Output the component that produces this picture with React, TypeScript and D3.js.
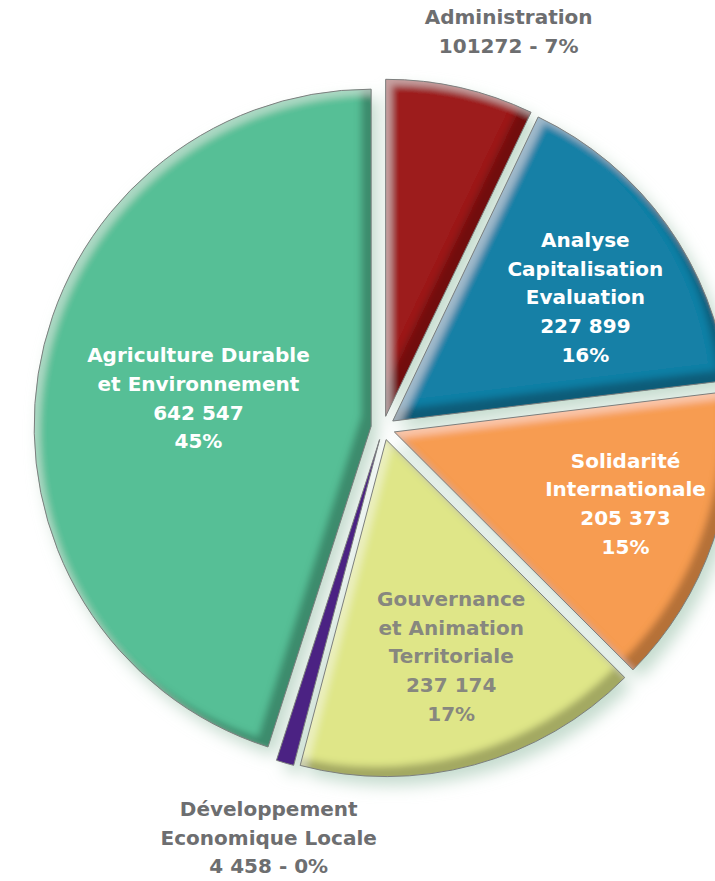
import React from 'react'
import * as d3 from 'd3'

const W = 715
const H = 881

// data, clockwise from 12 o'clock
const categories = [
  'Administration',
  'Analyse Capitalisation Evaluation',
  'Solidarité Internationale',
  'Gouvernance et Animation Territoriale',
  'Développement Economique Locale',
  'Agriculture Durable et Environnement',
]
const values = [101272, 227899, 205373, 237174, 4458, 642547]
const labelLines = [
  ['Administration'],
  ['Analyse', 'Capitalisation', 'Evaluation'],
  ['Solidarité', 'Internationale'],
  ['Gouvernance', 'et Animation', 'Territoriale'],
  ['Développement', 'Economique Locale'],
  ['Agriculture Durable', 'et Environnement'],
]
const valueText = ['101272', '227 899', '205 373', '237 174', '4 458', '642 547']
const pctText = ['7%', '16%', '15%', '17%', '0%', '45%']

// styling
const colors = ['#9d1a1f', '#1580a6', '#f79c51', '#dfe688', '#4b2283', '#56bf96']
const textColors = ['#6d6e70', '#ffffff', '#ffffff', '#87877f', '#6d6e70', '#ffffff']
const outside = [true, false, false, false, true, false]
const labelR = [416, 241, 254, 238, 425, 187]      // px from centre
const labelDA = [4.8, 2.8, -1.7, -1.5, -0.7, 0.3]  // degrees shift off mid angle

const CX = 383
const CY = 428
const R = 337
const EXPLODE = 12
const MIN_SHARE = 0.0085 // tiny slices get a visible sliver
const FONT = 20
const LH = 28.7

export default function App() {
  const svgRef = React.useRef<SVGSVGElement>(null)

  React.useEffect(() => {
    document.body.style.margin = '0'
    const svg = d3.select(svgRef.current!)
    svg.selectAll('*').remove()

    const defs = svg.append('defs')

    // soft pale-green drop shadow
    const sh = defs.append('filter').attr('id', 'shadow')
      .attr('x', '-20%').attr('y', '-20%').attr('width', '140%').attr('height', '140%')
    sh.append('feGaussianBlur').attr('in', 'SourceGraphic').attr('stdDeviation', 8)

    // inner bevel: dark on bottom-right edges, light on top-left edges
    const bv = defs.append('filter').attr('id', 'bevel')
      .attr('x', '-5%').attr('y', '-5%').attr('width', '110%').attr('height', '110%')
    bv.append('feGaussianBlur').attr('in', 'SourceAlpha').attr('stdDeviation', 3.5).attr('result', 'b')
    bv.append('feOffset').attr('in', 'b').attr('dx', -10).attr('dy', -10).attr('result', 'bUL')
    bv.append('feComposite').attr('in', 'SourceAlpha').attr('in2', 'bUL').attr('operator', 'out').attr('result', 'darkMask')
    bv.append('feFlood').attr('flood-color', '#000').attr('flood-opacity', 0.5)
    bv.append('feComposite').attr('in2', 'darkMask').attr('operator', 'in').attr('result', 'dark')
    bv.append('feOffset').attr('in', 'b').attr('dx', 6).attr('dy', 6).attr('result', 'bDR')
    bv.append('feComposite').attr('in', 'SourceAlpha').attr('in2', 'bDR').attr('operator', 'out').attr('result', 'lightMask')
    bv.append('feFlood').attr('flood-color', '#fff').attr('flood-opacity', 0.35)
    bv.append('feComposite').attr('in2', 'lightMask').attr('operator', 'in').attr('result', 'light')
    const merge = bv.append('feMerge')
    merge.append('feMergeNode').attr('in', 'SourceGraphic')
    merge.append('feMergeNode').attr('in', 'dark')
    merge.append('feMergeNode').attr('in', 'light')

    const total = d3.sum(values)
    const pie = d3.pie<number>().sort(null).value(d => Math.max(d, total * MIN_SHARE))
    const arcs = pie(values)
    const arc = d3.arc<d3.PieArcDatum<number>>().innerRadius(0).outerRadius(R)

    const offset = (a: d3.PieArcDatum<number>) => {
      const m = (a.startAngle + a.endAngle) / 2
      return [Math.sin(m) * EXPLODE, -Math.cos(m) * EXPLODE]
    }

    const g = svg.append('g').attr('transform', `translate(${CX},${CY})`)

    // shadow layer
    const sg = g.append('g').attr('filter', 'url(#shadow)')
    sg.selectAll('path').data(arcs).join('path')
      .attr('transform', d => { const [x, y] = offset(d); return `translate(${x + 7},${y + 9})` })
      .attr('d', arc)
      .attr('fill', '#c4dbce')

    // slices
    const slices = g.append('g')
    slices.selectAll('path.fill').data(arcs).join('path')
      .attr('class', 'fill')
      .attr('transform', d => { const [x, y] = offset(d); return `translate(${x},${y})` })
      .attr('d', arc)
      .attr('fill', (_, i) => colors[i])
      .attr('filter', (_, i) => (values[i] / total < 0.02 ? null : 'url(#bevel)'))
    slices.selectAll('path.edge').data(arcs).join('path')
      .attr('class', 'edge')
      .attr('transform', d => { const [x, y] = offset(d); return `translate(${x},${y})` })
      .attr('d', arc)
      .attr('fill', 'none')
      .attr('stroke', '#7c7f7e')
      .attr('stroke-width', 1)

    // labels
    const lg = g.append('g')
      .attr('font-family', '"DejaVu Sans", sans-serif')
      .attr('font-weight', 700)
      .attr('font-size', FONT)
      .attr('text-anchor', 'middle')
    arcs.forEach((a, i) => {
      const lines = outside[i]
        ? [...labelLines[i], `${valueText[i]} - ${pctText[i]}`]
        : [...labelLines[i], valueText[i], pctText[i]]
      const m = (a.startAngle + a.endAngle) / 2 + (labelDA[i] * Math.PI) / 180
      const x = Math.sin(m) * labelR[i]
      const y = -Math.cos(m) * labelR[i]
      const y0 = y - ((lines.length - 1) * LH) / 2
      const t = lg.append('text').attr('fill', textColors[i])
      lines.forEach((ln, k) => {
        t.append('tspan').attr('x', x).attr('y', y0 + k * LH).attr('dy', '0.36em').text(ln)
      })
    })
  }, [])

  return <svg ref={svgRef} width={W} height={H} style={{ display: 'block' }} />
}
